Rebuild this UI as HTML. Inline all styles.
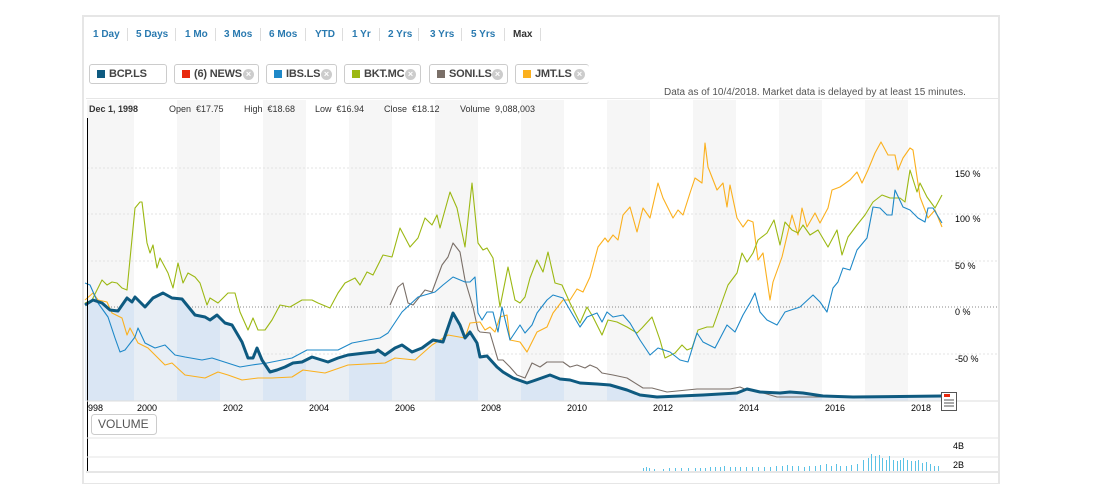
<!DOCTYPE html>
<html><head><meta charset="utf-8"><style>
body{margin:0;background:#fff;font-family:"Liberation Sans",Arial,sans-serif;}
.wrap{position:relative;width:1093px;height:484px;overflow:hidden;}
.box{position:absolute;left:82px;top:15px;width:918px;height:470px;border:2px solid #e6e6e6;box-sizing:border-box;}
.rng{position:absolute;top:29px;font-size:10px;font-weight:bold;color:#2a7ab0;}
.sep{position:absolute;top:28px;width:1px;height:13px;background:#ddd;}
.tag{position:absolute;top:64px;height:20px;border:1px solid #ccc;border-radius:3px;font-size:11px;letter-spacing:-0.2px;font-weight:bold;color:#444;box-sizing:border-box;line-height:18px;padding-left:19px;white-space:nowrap;overflow:hidden;}
.tag i{position:absolute;left:7px;top:5px;width:8px;height:8px;}
.tag b{position:absolute;right:4px;top:4px;width:11px;height:11px;border-radius:50%;background:#ccc;color:#fff;font-size:9px;line-height:11px;text-align:center;letter-spacing:0}
.info{position:absolute;top:104px;font-size:9px;color:#333;}
</style></head><body><div class="wrap">
<div class="box"></div>
<span class="rng" style="left:93px">1 Day</span><div class="sep" style="left:127px"></div>
<span class="rng" style="left:136px">5 Days</span><div class="sep" style="left:175px"></div>
<span class="rng" style="left:185px">1 Mo</span><div class="sep" style="left:215px"></div>
<span class="rng" style="left:224px">3 Mos</span><div class="sep" style="left:260px"></div>
<span class="rng" style="left:269px">6 Mos</span><div class="sep" style="left:305px"></div>
<span class="rng" style="left:315px">YTD</span><div class="sep" style="left:342px"></div>
<span class="rng" style="left:352px">1 Yr</span><div class="sep" style="left:379px"></div>
<span class="rng" style="left:388px">2 Yrs</span><div class="sep" style="left:418px"></div>
<span class="rng" style="left:430px">3 Yrs</span><div class="sep" style="left:461px"></div>
<span class="rng" style="left:471px">5 Yrs</span><div class="sep" style="left:504px"></div>
<span class="rng" style="left:513px;color:#333">Max</span><div class="sep" style="left:540px"></div>
<div class="tag" style="left:89px;width:78px"><i style="background:#0e5a80"></i>BCP.LS</div>
<div class="tag" style="left:174px;width:85px"><i style="background:#e8290e"></i>(6) NEWS<b>×</b></div>
<div class="tag" style="left:266px;width:71px"><i style="background:#1e88c8"></i>IBS.LS<b>×</b></div>
<div class="tag" style="left:344px;width:77px"><i style="background:#9cb813"></i>BKT.MC<b>×</b></div>
<div class="tag" style="left:429px;width:79px"><i style="background:#7a6f68"></i>SONI.LS<b>×</b></div>
<div class="tag" style="left:515px;width:74px;border-right:none"><i style="background:#fbb01e"></i>JMT.LS<b>×</b></div>
<div style="position:absolute;left:664px;top:87px;font-size:10px;color:#555">Data as of 10/4/2018. Market data is delayed by at least 15 minutes.</div>
<div style="position:absolute;left:86px;top:98px;width:912px;height:1px;background:#e6e6e6"></div>
<svg style="position:absolute;left:0;top:0" width="1093" height="484">
<g fill="#f6f6f6">
<rect x="87" y="100" width="47" height="301"/><rect x="177" y="100" width="43" height="301"/><rect x="263" y="100" width="43" height="301"/><rect x="349" y="100" width="43" height="301"/><rect x="435" y="100" width="43" height="301"/><rect x="521" y="100" width="43" height="301"/><rect x="607" y="100" width="43" height="301"/><rect x="693" y="100" width="43" height="301"/><rect x="779" y="100" width="43" height="301"/><rect x="865" y="100" width="43" height="301"/>
</g>
<g stroke="#e3e3e3" stroke-dasharray="2,2"><line x1="87" x2="998" y1="168" y2="168"/><line x1="87" x2="998" y1="214" y2="214"/><line x1="87" x2="998" y1="261" y2="261"/><line x1="87" x2="998" y1="354" y2="354"/></g>
<line x1="87" x2="998" y1="307" y2="307" stroke="#888" stroke-dasharray="1,2"/>
<clipPath id="cf"><polygon points="85,305 93,300 102,303 110,310 118,311 127,298 132,302 135,297 140,302 145,307 153,298 163,293 172,298 182,299 195,315 205,317 210,320 217,315 225,323 232,325 242,342 248,358 253,358 257,348 262,360 270,372 277,370 285,367 293,363 302,362 312,357 328,362 338,358 348,355 365,353 375,352 378,350 385,355 395,348 402,345 412,352 422,348 433,340 443,342 453,313 460,325 465,338 470,332 477,343 480,357 487,356 497,367 503,372 513,378 527,383 533,381 550,375 560,379 570,380 580,383 597,384 610,385 627,390 640,395 657,397 703,395 737,393 747,389 760,392 780,393 790,392 803,393 823,396 853,397 942,396 942,401 85,401"/></clipPath>
<g clip-path="url(#cf)">
<rect x="85" y="280" width="860" height="121" fill="#e8eef5"/>
<g fill="#dae6f4"><rect x="87" y="280" width="47" height="121"/><rect x="177" y="280" width="43" height="121"/><rect x="263" y="280" width="43" height="121"/><rect x="349" y="280" width="43" height="121"/><rect x="435" y="280" width="43" height="121"/><rect x="521" y="280" width="43" height="121"/><rect x="607" y="280" width="43" height="121"/><rect x="693" y="280" width="43" height="121"/><rect x="779" y="280" width="43" height="121"/><rect x="865" y="280" width="43" height="121"/></g>
</g>
<g fill="none" stroke-width="1.1" stroke-linejoin="round">
<polyline stroke="#7a6f68" points="390,305 398,287 403,283 408,303 413,305 425,290 432,292 442,265 448,257 453,243 460,252 465,280 473,307 478,330 480,332 490,333 498,360 503,360 510,367 517,375 525,378 532,363 540,367 547,362 563,362 570,367 577,365 585,368 590,365 597,368 602,373 613,375 627,378 643,388 652,388 667,392 697,389 730,389 740,387 747,390 760,392 777,397 837,397 942,396"/>
<polyline stroke="#fbb01e" points="85,300 93,293 98,300 107,302 112,313 122,318 127,335 130,328 138,343 148,348 157,357 165,365 172,363 185,375 205,378 218,372 228,375 242,380 258,378 272,378 292,377 303,370 325,373 348,365 385,363 395,358 415,360 432,345 448,335 465,338 470,323 480,322 485,330 490,327 495,332 500,317 507,315 510,340 520,342 527,352 537,332 547,327 553,313 563,300 570,300 577,289 583,292 590,277 598,247 605,238 608,242 613,235 618,240 623,215 630,207 637,232 643,208 650,218 658,183 663,198 673,218 678,210 683,215 690,193 695,178 702,183 705,143 708,167 717,190 723,183 727,207 730,185 737,218 743,227 748,220 753,222 758,260 763,253 770,300 773,282 782,257 792,215 798,235 802,208 807,227 815,213 820,223 828,208 832,190 840,187 850,180 857,172 862,183 868,170 875,153 881,142 888,155 895,155 898,170 903,158 910,148 913,150 920,197 928,218 935,210 942,227"/>
<polyline stroke="#9cb813" points="85,303 92,300 102,280 107,285 112,282 117,283 122,288 127,290 135,208 140,202 142,202 147,243 150,253 153,245 157,268 160,258 168,273 173,288 178,263 183,283 188,273 195,277 200,283 207,305 210,298 218,303 228,293 235,293 240,312 248,330 253,318 258,330 265,330 272,320 280,305 290,307 302,300 312,300 318,303 330,308 338,293 345,283 355,278 360,285 367,272 373,275 383,255 392,257 400,228 410,247 418,238 425,218 432,225 437,215 440,228 445,210 450,192 457,208 465,247 472,183 478,243 483,250 487,248 493,258 500,307 508,267 515,300 520,303 525,297 530,278 537,260 543,272 548,252 555,283 562,285 570,303 580,323 587,307 593,317 602,335 608,320 617,322 627,327 637,333 642,328 652,317 660,340 665,358 675,353 682,345 687,350 692,348 698,330 707,327 713,327 718,313 728,285 737,273 742,253 747,262 753,253 758,240 767,233 774,220 780,245 785,222 792,230 798,233 803,225 810,235 818,230 828,247 837,230 842,255 848,237 857,225 865,215 873,202 882,195 890,198 900,198 905,202 910,170 917,192 920,183 927,197 935,208 942,195"/>
<polyline stroke="#1e88c8" points="85,283 90,285 98,303 108,317 115,338 120,352 125,350 135,337 138,328 145,343 155,348 165,345 175,355 185,357 202,360 212,358 240,367 252,365 267,363 292,358 307,350 318,350 338,350 352,343 368,340 380,338 388,333 402,312 418,297 435,292 443,285 453,277 465,282 470,282 475,277 478,313 482,320 487,312 493,312 498,332 502,307 510,340 520,325 525,333 532,325 537,313 547,300 553,295 563,298 570,310 580,327 587,317 597,313 602,322 607,312 613,317 623,315 630,323 640,340 650,355 658,348 670,352 680,360 688,362 697,333 703,342 715,348 727,325 735,332 743,315 750,303 755,293 760,312 767,320 777,325 785,312 800,307 813,295 820,302 827,312 833,288 838,282 843,268 850,270 857,250 867,238 873,207 880,208 887,215 892,215 895,190 903,207 910,210 918,218 925,222 928,208 933,208 942,223"/>
<polyline stroke="#0e5a80" stroke-width="3" points="85,305 93,300 102,303 110,310 118,311 127,298 132,302 135,297 140,302 145,307 153,298 163,293 172,298 182,299 195,315 205,317 210,320 217,315 225,323 232,325 242,342 248,358 253,358 257,348 262,360 270,372 277,370 285,367 293,363 302,362 312,357 328,362 338,358 348,355 365,353 375,352 378,350 385,355 395,348 402,345 412,352 422,348 433,340 443,342 453,313 460,325 465,338 470,332 477,343 480,357 487,356 497,367 503,372 513,378 527,383 533,381 550,375 560,379 570,380 580,383 597,384 610,385 627,390 640,395 657,397 703,395 737,393 747,389 760,392 780,393 790,392 803,393 823,396 853,397 942,396"/>
</g>
<line x1="87.5" x2="87.5" y1="118" y2="472" stroke="#000"/>
<line x1="87" x2="998" y1="401" y2="401" stroke="#ddd"/>
<g font-size="9" fill="#000" font-family="Liberation Sans,sans-serif">
<text x="955" y="177">150 %</text><text x="955" y="222">100 %</text><text x="955" y="269">50 %</text><text x="955" y="315">0 %</text><text x="955" y="362">-50 %</text>
<text x="88" y="411">998</text><text x="137" y="411">2000</text><text x="223" y="411">2002</text><text x="309" y="411">2004</text><text x="395" y="411">2006</text><text x="481" y="411">2008</text><text x="567" y="411">2010</text><text x="653" y="411">2012</text><text x="739" y="411">2014</text><text x="825" y="411">2016</text><text x="911" y="411">2018</text>
<text x="953" y="449">4B</text><text x="953" y="468">2B</text>
</g>
<rect x="941.5" y="392.5" width="15" height="18" fill="#fff" stroke="#555"/>
<rect x="944" y="394" width="6" height="3" fill="#e8290e"/>
<g stroke="#555"><line x1="944" x2="954" y1="400" y2="400"/><line x1="944" x2="954" y1="403" y2="403"/><line x1="944" x2="954" y1="406" y2="406"/></g>
<rect x="91.5" y="414.5" width="65" height="20" rx="3" fill="#fff" stroke="#ccc"/>
<text x="98" y="428" font-size="12" fill="#555" font-family="Liberation Sans,sans-serif">VOLUME</text>
<line x1="87" x2="998" y1="438" y2="438" stroke="#e6e6e6"/>
<line x1="87" x2="998" y1="457" y2="457" stroke="#e6e6e6"/>
<line x1="86" x2="998" y1="472" y2="472" stroke="#e6e6e6" stroke-width="2"/>
<g fill="#5bc2e6">
<rect x="643" y="468" width="1" height="3"/><rect x="646" y="467" width="1" height="4"/><rect x="649" y="468" width="1" height="3"/><rect x="654" y="469" width="1" height="2"/><rect x="663" y="469" width="1" height="2"/><rect x="669" y="468" width="1" height="3"/><rect x="675" y="468" width="1" height="3"/><rect x="681" y="468" width="1" height="3"/><rect x="688" y="468" width="1" height="3"/><rect x="695" y="468" width="1" height="3"/><rect x="700" y="468" width="1" height="3"/><rect x="705" y="468" width="1" height="3"/><rect x="710" y="467" width="1" height="4"/><rect x="715" y="467" width="1" height="4"/><rect x="720" y="467" width="1" height="4"/><rect x="724" y="466" width="1" height="5"/><rect x="730" y="467" width="1" height="4"/><rect x="735" y="467" width="1" height="4"/><rect x="740" y="467" width="1" height="4"/><rect x="746" y="467" width="1" height="4"/><rect x="752" y="467" width="1" height="4"/><rect x="758" y="467" width="1" height="4"/><rect x="764" y="467" width="1" height="4"/><rect x="770" y="467" width="1" height="4"/><rect x="776" y="466" width="1" height="5"/><rect x="782" y="466" width="1" height="5"/><rect x="787" y="465" width="1" height="6"/><rect x="792" y="466" width="1" height="5"/><rect x="798" y="466" width="1" height="5"/><rect x="804" y="467" width="1" height="4"/><rect x="809" y="466" width="1" height="5"/><rect x="815" y="466" width="1" height="5"/><rect x="820" y="465" width="1" height="6"/><rect x="826" y="464" width="1" height="7"/><rect x="831" y="466" width="1" height="5"/><rect x="836" y="464" width="1" height="7"/><rect x="840" y="466" width="1" height="5"/><rect x="846" y="466" width="1" height="5"/><rect x="851" y="465" width="1" height="6"/><rect x="857" y="464" width="1" height="7"/><rect x="863" y="460" width="1" height="11"/><rect x="868" y="458" width="1" height="13"/><rect x="871" y="454" width="1" height="17"/><rect x="875" y="456" width="1" height="15"/><rect x="879" y="455" width="1" height="16"/><rect x="882" y="458" width="1" height="13"/><rect x="886" y="460" width="1" height="11"/><rect x="889" y="456" width="1" height="15"/><rect x="893" y="460" width="1" height="11"/><rect x="897" y="461" width="1" height="10"/><rect x="900" y="460" width="1" height="11"/><rect x="903" y="458" width="1" height="13"/><rect x="907" y="460" width="1" height="11"/><rect x="911" y="461" width="1" height="10"/><rect x="915" y="461" width="1" height="10"/><rect x="918" y="460" width="1" height="11"/><rect x="922" y="463" width="1" height="8"/><rect x="926" y="462" width="1" height="9"/><rect x="930" y="464" width="1" height="7"/><rect x="934" y="466" width="1" height="5"/><rect x="938" y="466" width="1" height="5"/>
</g>
</svg>
<span class="info" style="left:89px;font-weight:bold">Dec 1, 1998</span>
<span class="info" style="left:169px">Open &nbsp;€17.75</span>
<span class="info" style="left:244px">High &nbsp;€18.68</span>
<span class="info" style="left:315px">Low &nbsp;€16.94</span>
<span class="info" style="left:384px">Close &nbsp;€18.12</span>
<span class="info" style="left:460px">Volume &nbsp;9,088,003</span>
</div></body></html>
